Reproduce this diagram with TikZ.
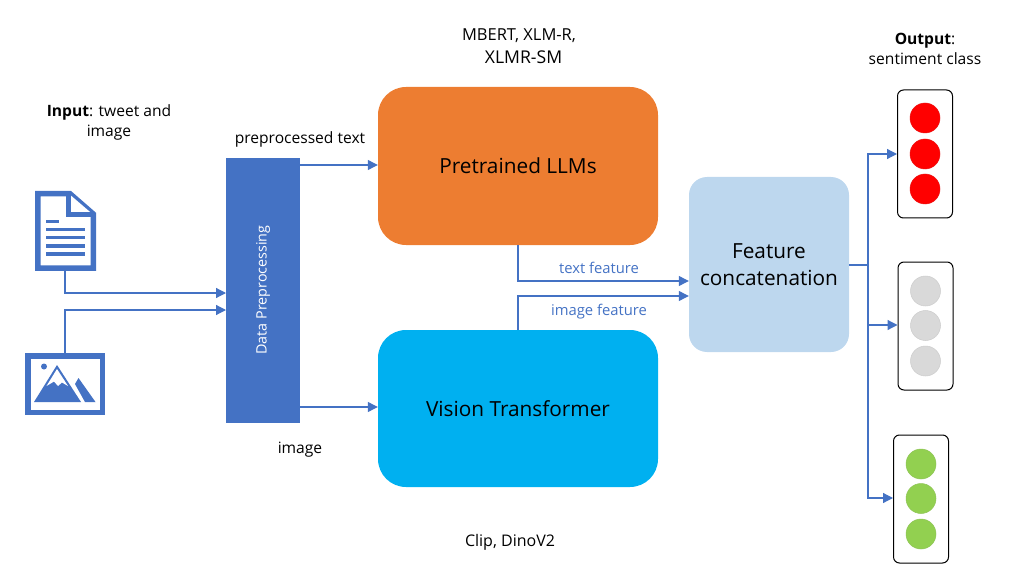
\documentclass[tikz,border=0pt]{standalone}
\usepackage{fontspec}
\setmainfont{Open Sans}
\definecolor{cblue}{HTML}{4472C4}
\definecolor{corange}{HTML}{ED7D31}
\definecolor{ccyan}{HTML}{00B0F0}
\definecolor{clight}{HTML}{BDD7EE}
\definecolor{cred}{HTML}{FF0000}
\definecolor{cgray}{HTML}{D9D9D9}
\definecolor{cgreen}{HTML}{92D050}
\usetikzlibrary{arrows.meta}
\tikzset{
  conn/.style={draw=cblue,line width=1.2pt,-{Triangle[length=10pt,width=10pt]}},
  plain/.style={draw=cblue,line width=1.2pt},
  block/.style={draw=none,rounded corners=#1,inner sep=0pt,align=center,font=\fontsize{20.8}{27}\selectfont},
  lightbox/.style={draw=black,line width=1pt,fill=white,rounded corners=6pt,minimum width=55pt,minimum height=128pt,inner sep=0pt},
  lamp/.style={circle,minimum size=30pt,inner sep=0pt,draw=#1!85!gray,line width=.5pt,fill=#1},
  lbl/.style={inner sep=0pt,align=center,font=\fontsize{15.6}{20}\selectfont,text=black},
  blbl/.style={inner sep=0pt,font=\fontsize{14.8}{18}\selectfont,text=cblue},
  iconline/.style={draw=cblue,line width=5.5pt,fill=white,miter limit=10},
}
\begin{document}
\begin{tikzpicture}[x=1pt,y=-1pt]
\useasboundingbox (0,0) rectangle (1036,588);
% document icon
\path[iconline] (37.75,193.75) -- (70,193.75) -- (93.25,214) -- (93.25,268) -- (37.75,268) -- cycle;
\coordinate (docbot) at (65,270.75);
\path[draw=cblue,line width=5pt,fill=white] (68.5,193.5) -- (68.5,214.5) -- (93,214.5);
\fill[cblue] (46,220) rectangle (59,223.5);
\foreach \yy in {228,236,244,252} \fill[cblue] (46,\yy) rectangle (84.5,\yy+3.5);
% image icon
\path[iconline] (27.75,355.75) rectangle (102.25,412.25);
\coordinate (imgtop) at (65,353);
\fill[cblue] (44,366.5) circle (3pt);
\fill[cblue] (34,402) -- (57,365) -- (81,402) -- cycle;
\fill[white] (46.5,386) -- (57,369) -- (68,386) -- (62,382.5) -- (58,386) -- (54,381.5) -- cycle;
\fill[cblue] (75,384) -- (78.5,378) -- (95.5,402) -- (85,402) -- cycle;
% main blocks
\node[fill=cblue,minimum width=74pt,minimum height=265pt,inner sep=0pt] (pre) at (263,290.5) {};
\node[rotate=90,text=white,inner sep=0pt,font=\fontsize{14.3}{17}\selectfont] (pretxt) at (263,290) {Data Preprocessing};
\node[block=28pt,fill=corange,minimum width=280pt,minimum height=158pt] (llm) at (518,166) {Pretrained LLMs};
\node[block=28pt,fill=ccyan,minimum width=280pt,minimum height=157pt] (vit) at (518,408.5) {Vision Transformer};
\node[block=18pt,fill=clight,minimum width=160pt,minimum height=175pt] (feat) at (769,264.5) {Feature\\concatenation};
% lights
\node[lightbox] (l1) at (925,154) {};
\node[lamp=cred] (r1) at (925,118) {};
\node[lamp=cred] (r2) at (925,154) {};
\node[lamp=cred] (r3) at (925,189) {};
\node[lightbox] (l2) at (925.5,326) {};
\node[lamp=cgray] (g1) at (925.5,291) {};
\node[lamp=cgray] (g2) at (925.5,325.5) {};
\node[lamp=cgray] (g3) at (925.5,361) {};
\node[lightbox] (l3) at (921,499) {};
\node[lamp=cgreen] (v1) at (921,464) {};
\node[lamp=cgreen] (v2) at (921,498.5) {};
\node[lamp=cgreen] (v3) at (921,534) {};
% connectors
\coordinate (a1) at (226,293);
\coordinate (a2) at (226,310);
\draw[conn] (docbot) |- (a1);
\draw[conn] (imgtop) |- (a2);
\draw[conn] (300,165) -- (llm.west |- 0,165);
\draw[conn] (300,407) -- (vit.west |- 0,407);
\draw[conn] (llm.south) |- (feat.west |- 0,281);
\draw[conn] (vit.north) |- (feat.west |- 0,296);
\coordinate (bus) at (868,265);
\draw[plain] (feat.east |- bus) -- (bus);
\draw[conn] (bus) |- (l1.west |- 0,154);
\draw[conn] (bus) |- (l2.west |- 0,325);
\draw[conn] (bus) |- (l3.west |- 0,498);
% labels
\node[lbl] (t1) at (109,122.5) {\textbf{Input}: tweet and\\image};
\node[lbl] (t2) at (300,139) {preprocessed text};
\node[lbl] (t3) at (300,449.5) {image};
\node[lbl,font=\fontsize{16.5}{20}\selectfont] (t4) at (519,36) {MBERT, XLM-R,};
\node[lbl,font=\fontsize{17.6}{20}\selectfont] (t4b) at (523.5,57.5) {XLMR-SM};
\node[lbl,font=\fontsize{16}{20}\selectfont] (t5) at (510,542.5) {Clip, DinoV2};
\node[lbl] (t6) at (925,48.5) {\textbf{Output}:\\sentiment class};
\node[blbl] (t7) at (599,268) {text feature};
\node[blbl] (t8) at (599,312) {image feature};
\end{tikzpicture}
\end{document}
